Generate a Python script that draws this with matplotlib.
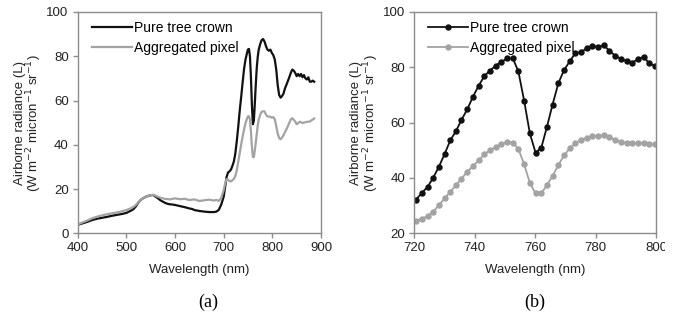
import matplotlib
matplotlib.use("Agg")
import matplotlib.pyplot as plt
from matplotlib.patches import Rectangle

plt.rcParams['font.family'] = ['Liberation Sans', 'DejaVu Sans']

# ---------------- Panel (a) data ----------------
wl_a = [400, 410, 420, 430, 440, 450, 460, 470, 480, 490, 500, 510, 515, 520, 525,
        530, 535, 540, 545, 550, 555, 560, 565, 570, 575, 580, 585, 590, 595, 600,
        610, 620, 630, 635, 640, 650, 660, 670, 680, 685, 690, 695, 700, 703, 706,
        709, 712, 715, 718, 721, 724, 727, 730, 733, 736, 739, 742, 745, 748, 750,
        752, 754, 756, 758, 760, 762, 764, 766, 768, 770, 772, 775, 778, 781, 784,
        787, 790, 793, 796, 799, 802, 805, 808, 811, 814, 817, 820, 823, 826, 830,
        834, 838, 841, 844, 847, 850, 853, 856, 859, 862, 865, 868, 871, 874, 877,
        880, 883, 886]
pure_a = [3.8, 4.5, 5.2, 6.0, 6.6, 7.0, 7.4, 7.9, 8.3, 8.7, 9.2, 10.3, 11.0, 12.3, 14.0,
          15.2, 15.9, 16.5, 16.9, 17.2, 17.3, 16.6, 15.8, 14.9, 14.3, 13.7, 13.3, 13.1, 13.0, 12.8,
          12.3, 11.8, 11.2, 11.0, 10.5, 10.1, 9.8, 9.6, 9.6, 9.8, 10.6, 13.0, 16.5, 21.0, 25.5,
          27.5, 28.0, 28.8, 30.5, 32.5, 36.2, 41.8, 48.3, 55.5, 61.7, 68.3, 74.5, 78.7, 81.5, 83.1,
          83.3, 80.0, 70.5, 58.0, 49.3, 50.9, 58.7, 67.3, 74.9, 79.7, 83.0, 85.5, 87.3, 87.8, 86.6,
          84.5, 83.0, 82.5, 83.0, 81.5, 80.5, 78.5, 74.0, 67.0, 62.5, 61.3, 62.0, 63.2, 65.5, 67.7,
          70.0, 72.5, 74.0, 73.5, 72.5, 71.0, 72.0, 71.0, 72.0, 70.5, 71.5, 70.0, 69.5, 70.5, 68.5,
          68.5, 69.0, 68.5]
agg_a = [4.0, 4.9, 5.8, 6.8, 7.5, 8.1, 8.6, 9.0, 9.4, 9.9, 10.5, 11.4, 12.0, 12.9, 14.2,
         15.2, 15.9, 16.5, 16.9, 17.2, 17.4, 17.0, 16.5, 16.1, 15.8, 15.5, 15.5, 15.3, 15.6, 15.8,
         15.4, 15.6, 15.0, 15.2, 15.3, 14.6, 14.9, 15.2, 14.8, 15.1, 14.6, 16.0, 19.5, 22.5, 24.5,
         24.2, 23.5, 23.5, 24.0, 24.6, 26.0, 28.5, 32.4, 36.2, 40.2, 43.8, 47.0, 49.9, 51.9, 52.9,
         52.9, 51.5, 46.0, 39.0, 34.5, 34.4, 37.5, 41.0, 45.0, 48.7, 51.3, 53.6, 54.9, 55.1, 55.1,
         53.6, 52.8, 52.7, 52.7, 52.2, 52.5, 51.5, 48.5, 45.1, 43.0, 42.5, 43.3, 44.3, 45.8, 47.4,
         49.5, 51.5, 52.0, 51.3, 50.5, 49.3, 49.8, 50.4, 50.2, 49.8, 50.0, 50.2, 50.4, 50.4, 50.5,
         51.0, 51.4, 51.9]

# ---------------- Panel (b) data ----------------
wl_b = [720.7, 722.6, 724.5, 726.3, 728.2, 730.1, 732.0, 733.9, 735.7, 737.6,
        739.5, 741.4, 743.3, 745.1, 747.0, 748.9, 750.8, 752.7, 754.5, 756.4,
        758.3, 760.2, 762.1, 763.9, 765.8, 767.7, 769.6, 771.5, 773.3, 775.2,
        777.1, 779.0, 780.9, 782.7, 784.6, 786.5, 788.4, 790.3, 792.1, 794.0,
        795.9, 797.8, 799.7]
pure_b = [32.2, 34.6, 36.8, 40.0, 44.0, 48.6, 53.6, 57.0, 61.0, 64.8,
          69.4, 73.4, 76.9, 78.8, 80.6, 82.0, 83.2, 83.2, 78.5, 68.0,
          56.1, 49.1, 51.0, 58.3, 66.5, 74.2, 79.0, 82.2, 85.1, 85.5,
          86.9, 87.7, 87.4, 88.0, 86.0, 84.2, 83.1, 82.2, 81.7, 82.9,
          83.8, 81.4, 80.5]
agg_b = [24.5, 25.3, 26.2, 27.7, 30.1, 32.6, 35.0, 37.4, 39.8, 42.2,
         44.3, 46.4, 48.6, 50.0, 51.2, 52.3, 53.0, 52.8, 50.5, 45.0,
         38.2, 34.4, 34.4, 37.4, 40.7, 44.6, 48.2, 50.7, 52.5, 53.7,
         54.6, 55.1, 55.1, 55.5, 54.9, 53.7, 53.1, 52.7, 52.7, 52.7,
         52.7, 52.2, 52.2]

labels = ["Pure tree crown", "Aggregated pixel"]
xticks_a = [400, 500, 600, 700, 800, 900]
yticks_a = [0, 20, 40, 60, 80, 100]
xticks_b = [720, 740, 760, 780, 800]
yticks_b = [20, 40, 60, 80, 100]

W, H = 681, 320
fig = plt.figure(figsize=(W / 100, H / 100), dpi=100)

black = '#111111'
gray = '#a3a3a3'
spine_c = '#8c8c8c'
txt_c = '#222222'
fs_tick = 9.5
fs_lab = 9.5
fs_leg = 10


def style(ax):
    for s in ax.spines.values():
        s.set_color(spine_c)
        s.set_linewidth(1.0)
    ax.tick_params(direction='out', length=3.5, width=1.0, color=spine_c,
                   labelsize=fs_tick, labelcolor=txt_c, pad=3,
                   top=False, right=False)
    ax.set_xlabel("Wavelength (nm)", fontsize=fs_lab, color=txt_c, labelpad=7)
    ax.set_ylabel("Airborne radiance (L)\n(W m$^{-2}$ micron$^{-1}$ sr$^{-1}$)",
                  fontsize=fs_lab, color=txt_c, labelpad=1.5, linespacing=0.9)


def legend(ax):
    ax.legend(loc='upper left', bbox_to_anchor=(0.02, 1.0), frameon=False,
              fontsize=fs_leg, handlelength=2.9, handletextpad=0.15,
              labelspacing=0.45, borderaxespad=0.25)


axa = fig.add_axes([77.7 / W, 1 - 233.3 / H, (321 - 77.7) / W, (233.3 - 12) / H])
axa.plot(wl_a, pure_a, color=black, lw=1.6, label=labels[0])
axa.plot(wl_a, agg_a, color=gray, lw=1.6, label=labels[1])
axa.set_xlim(400, 900)
axa.set_ylim(0, 100)
axa.set_xticks(xticks_a)
axa.set_yticks(yticks_a)
style(axa)
legend(axa)

axb = fig.add_axes([414 / W, 1 - 233.3 / H, (656 - 414) / W, (233.3 - 12) / H])
axb.plot(wl_b, pure_b, color=black, lw=1.3, marker='o', ms=3.6, label=labels[0])
axb.plot(wl_b, agg_b, color=gray, lw=1.3, marker='o', ms=3.6, label=labels[1])
axb.set_xlim(720, 800)
axb.set_ylim(20, 100)
axb.set_xticks(xticks_b)
axb.set_yticks(yticks_b)
style(axb)
legend(axb)

fig.text(208 / W, 1 - 302 / H, "(a)", ha='center', va='center', fontsize=13,
         family=['Liberation Serif', 'DejaVu Serif'])
fig.text(535 / W, 1 - 302 / H, "(b)", ha='center', va='center', fontsize=13,
         family=['Liberation Serif', 'DejaVu Serif'])

# right edge of the original image is cropped (last tick label partly cut)
fig.patches.append(Rectangle((665 / W, 0), 1 - 665 / W, 1, transform=fig.transFigure,
                             facecolor='white', edgecolor='none', zorder=10))

fig.savefig("out.png", dpi=100)
